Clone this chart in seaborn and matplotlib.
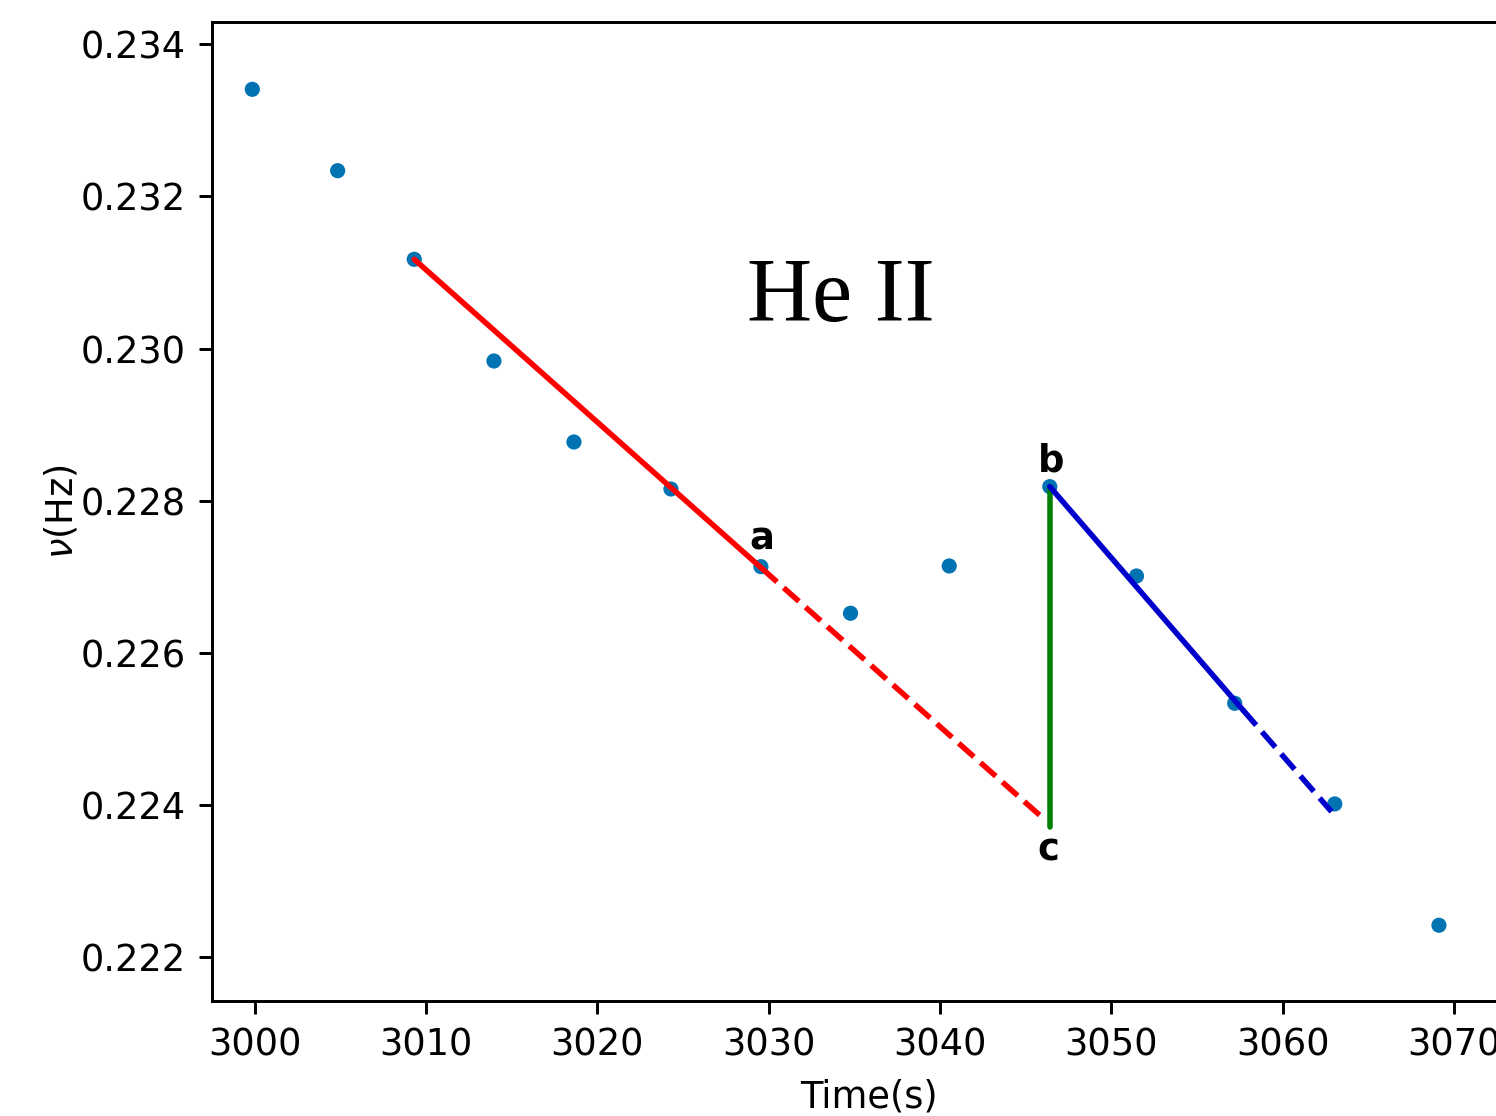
import matplotlib
matplotlib.use("Agg")
import matplotlib.pyplot as plt
import seaborn as sns
import pandas as pd

# Data
time_s = [2999.87, 3004.85, 3009.32, 3013.97, 3018.64, 3024.30, 3029.55,
          3034.78, 3040.54, 3046.41, 3051.47, 3057.20, 3063.04, 3069.12]
freq_hz = [0.233408, 0.232338, 0.231173, 0.229836, 0.228771, 0.228153, 0.227132,
           0.226519, 0.227141, 0.228184, 0.227009, 0.225336, 0.224012, 0.222417]

red_solid_x = [3009.32, 3029.60]
red_solid_y = [0.231173, 0.227110]
red_dash_x = [3029.60, 3046.00]
red_dash_y = [0.227110, 0.223828]

green_x = [3046.40, 3046.40]
green_y = [0.228184, 0.223713]

blue_solid_x = [3046.41, 3057.67]
blue_solid_y = [0.228184, 0.225250]
blue_dash_x = [3057.67, 3062.85]
blue_dash_y = [0.225250, 0.223910]

labels_text = ["a", "b", "c"]
labels_x = [3029.6, 3046.5, 3046.3]
labels_y = [0.227250, 0.228280, 0.223650]

xticks = [3000, 3010, 3020, 3030, 3040, 3050, 3060, 3070]
yticks = [0.222, 0.224, 0.226, 0.228, 0.230, 0.232, 0.234]

sns.set_style("ticks")
plt.rcParams["font.family"] = ["DejaVu Sans"]
plt.rcParams.update({"text.color": "black", "axes.labelcolor": "black",
                     "xtick.color": "black", "ytick.color": "black",
                     "axes.edgecolor": "black"})

DPI = 265
fig = plt.figure(figsize=(1496 / DPI, 1116 / DPI), dpi=DPI)
ax = fig.add_axes([211.7 / 1496, (1116 - 1000.7) / 1116,
                   (1526 - 211.7) / 1496, (1000.7 - 21.7) / 1116])

df = pd.DataFrame({"t": time_s, "f": freq_hz})
pt_color = sns.color_palette("colorblind")[0]
sns.scatterplot(data=df, x="t", y="f", ax=ax, color=pt_color, s=17,
                edgecolor="none", zorder=2)

sns.lineplot(x=red_solid_x, y=red_solid_y, ax=ax, color="red", lw=1.5,
             sort=False, zorder=3)
sns.lineplot(x=red_dash_x, y=red_dash_y, ax=ax, color="red", lw=1.5,
             sort=False, zorder=3, linestyle=(0, (3.7, 1.6)))
ax.plot(green_x, green_y, color="green", lw=1.5, zorder=3)
sns.lineplot(x=blue_solid_x, y=blue_solid_y, ax=ax, color="mediumblue", lw=1.5,
             sort=False, zorder=3)
sns.lineplot(x=blue_dash_x, y=blue_dash_y, ax=ax, color="mediumblue", lw=1.5,
             sort=False, zorder=3, linestyle=(0, (3.7, 1.6)))

for t, x, y in zip(labels_text, labels_x, labels_y):
    ax.text(x, y, t, ha="center", va="bottom" if t != "c" else "top",
            fontsize=10, fontweight="bold", color="black")

ax.text(3034.2, 0.230650, "He II", ha="center", va="center", color="black",
        fontsize=24.5, family=["Liberation Serif", "DejaVu Serif"])

ax.set_xlim(2997.5, 3074.2)
ax.set_ylim(0.221425, 0.234297)
ax.set_xticks(xticks)
ax.set_yticks(yticks)
ax.set_xticklabels([str(v) for v in xticks])
ax.set_yticklabels([f"{v:.3f}" for v in yticks])
ax.tick_params(labelsize=10, length=3.5, width=0.8, color="black",
               labelcolor="black")
ax.set_xlabel("Time(s)", fontsize=10, color="black")
ax.set_ylabel(r"$\nu$(Hz)", fontsize=10, color="black", labelpad=0)
for sp in ax.spines.values():
    sp.set_linewidth(0.8)
    sp.set_color("black")

fig.savefig("out.png", dpi=DPI)
